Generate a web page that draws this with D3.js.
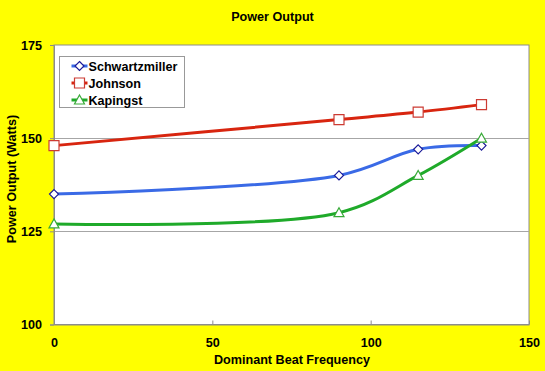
<!DOCTYPE html>
<html>
<head>
<meta charset="utf-8">
<script src="https://cdn.jsdelivr.net/npm/d3@7"></script>
<style>
  html, body { margin: 0; padding: 0; background: #ffff00; }
  text { font-family: "Liberation Sans", Arial, sans-serif; font-weight: bold; fill: #000; }
</style>
</head>
<body>
<div id="chart"></div>
<script>
// data
const beatFrequency = [0, 90, 115, 135];
const schwartzmiller = [135, 140, 147, 148];
const johnson = [148, 155, 157, 159];
const kapingst = [127, 130, 140, 150];
const seriesNames = ['Schwartzmiller', 'Johnson', 'Kapingst'];
const xTicks = [0, 50, 100, 150];
const yTicks = [100, 125, 150, 175];

const width = 545, height = 371;
const plot = { left: 54, right: 529, top: 45, bottom: 324.5 };
const fontSize = '12.6px';

const svg = d3.select('#chart').append('svg')
              .attr('width', width)
              .attr('height', height);

svg.append('rect')
   .attr('width', width)
   .attr('height', height)
   .attr('fill', '#ffff00');

const x = d3.scaleLinear().domain([0, 150]).range([plot.left, plot.right]);
const y = d3.scaleLinear().domain([100, 175]).range([plot.bottom, plot.top]);

// plot area
svg.append('rect')
   .attr('x', plot.left)
   .attr('y', plot.top)
   .attr('width', plot.right - plot.left)
   .attr('height', plot.bottom - plot.top)
   .attr('fill', '#ffffff')
   .attr('stroke', '#8c8c8c')
   .attr('stroke-width', 1);

// gridlines
svg.append('g')
   .selectAll('line')
   .data(yTicks.filter(d => d > 100 && d < 175))
   .enter().append('line')
   .attr('x1', plot.left)
   .attr('x2', plot.right)
   .attr('y1', d => Math.round(y(d)) + 0.5)
   .attr('y2', d => Math.round(y(d)) + 0.5)
   .attr('stroke', '#a6a6a6')
   .attr('stroke-width', 1);

// axes
const yAxis = d3.axisLeft(y).tickValues(yTicks).tickSize(4).tickPadding(8);
const yG = svg.append('g')
              .attr('transform', 'translate(' + plot.left + ',0)')
              .call(yAxis);

const xAxis = d3.axisBottom(x).tickValues(xTicks).tickSizeInner(-4).tickSizeOuter(0).tickPadding(14);
const xG = svg.append('g')
              .attr('transform', 'translate(0,' + plot.bottom + ')')
              .call(xAxis);

[yG, xG].forEach(g => {
  g.select('.domain').attr('stroke', '#8c8c8c');
  g.selectAll('.tick line').attr('stroke', '#8c8c8c');
  g.selectAll('.tick text')
   .style('font-family', '"Liberation Sans", Arial, sans-serif')
   .style('font-weight', 'bold')
   .style('font-size', fontSize)
   .attr('fill', '#000');
});

// titles
svg.append('text')
   .attr('x', 272.5)
   .attr('y', 21)
   .attr('text-anchor', 'middle')
   .style('font-size', fontSize)
   .text('Power Output');

svg.append('text')
   .attr('x', 292)
   .attr('y', 364)
   .attr('text-anchor', 'middle')
   .style('font-size', fontSize)
   .text('Dominant Beat Frequency');

svg.append('text')
   .attr('transform', 'translate(16,179) rotate(-90)')
   .attr('text-anchor', 'middle')
   .style('font-size', fontSize)
   .text('Power Output (Watts)');

// series
const series = [
  { name: seriesNames[0], values: schwartzmiller, line: '#3a6ae6', stroke: '#1a1a99', shape: 'diamond' },
  { name: seriesNames[1], values: johnson, line: '#d8250f', stroke: '#cc3b33', shape: 'square' },
  { name: seriesNames[2], values: kapingst, line: '#1faa2a', stroke: '#38aa38', shape: 'triangle' }
];

// smoothed lines
const line = d3.line()
               .x(d => x(d[0]))
               .y(d => y(d[1]))
               .curve(d3.curveCatmullRom.alpha(0.5));

function marker(shape) {
  if (shape === 'diamond') { return 'M0,-4.5L4.5,0L0,4.5L-4.5,0Z'; }
  if (shape === 'square') { return 'M-5,-5H5V5H-5Z'; }
  return 'M0,-5L5,4H-5Z';
}

series.forEach(s => {
  const pts = beatFrequency.map((f, i) => [f, s.values[i]]);
  svg.append('path')
     .datum(pts)
     .attr('d', line)
     .attr('fill', 'none')
     .attr('stroke', s.line)
     .attr('stroke-width', 3);

  svg.append('g')
     .selectAll('path')
     .data(pts)
     .enter().append('path')
     .attr('transform', d => 'translate(' + x(d[0]) + ',' + y(d[1]) + ')')
     .attr('d', marker(s.shape))
     .attr('fill', '#fff')
     .attr('stroke', s.stroke)
     .attr('stroke-width', 1.2);
});

// legend
const legend = svg.append('g').attr('transform', 'translate(59.5,56.5)');
legend.append('rect')
      .attr('width', 125)
      .attr('height', 51)
      .attr('fill', '#fff')
      .attr('stroke', '#999');

const item = legend.selectAll('.item')
                   .data(series)
                   .enter().append('g')
                   .attr('class', 'item')
                   .attr('transform', (d, i) => 'translate(0,' + (9.5 + i * 17) + ')');

item.append('line')
    .attr('x1', 12)
    .attr('x2', 28)
    .attr('stroke', d => d.line)
    .attr('stroke-width', 3);

item.append('path')
    .attr('transform', 'translate(20,0)')
    .attr('d', d => marker(d.shape))
    .attr('fill', '#fff')
    .attr('stroke', d => d.stroke)
    .attr('stroke-width', 1.2);

item.append('text')
    .attr('x', 29)
    .attr('y', 4.5)
    .style('font-size', fontSize)
    .text(d => d.name);
</script>
</body>
</html>
